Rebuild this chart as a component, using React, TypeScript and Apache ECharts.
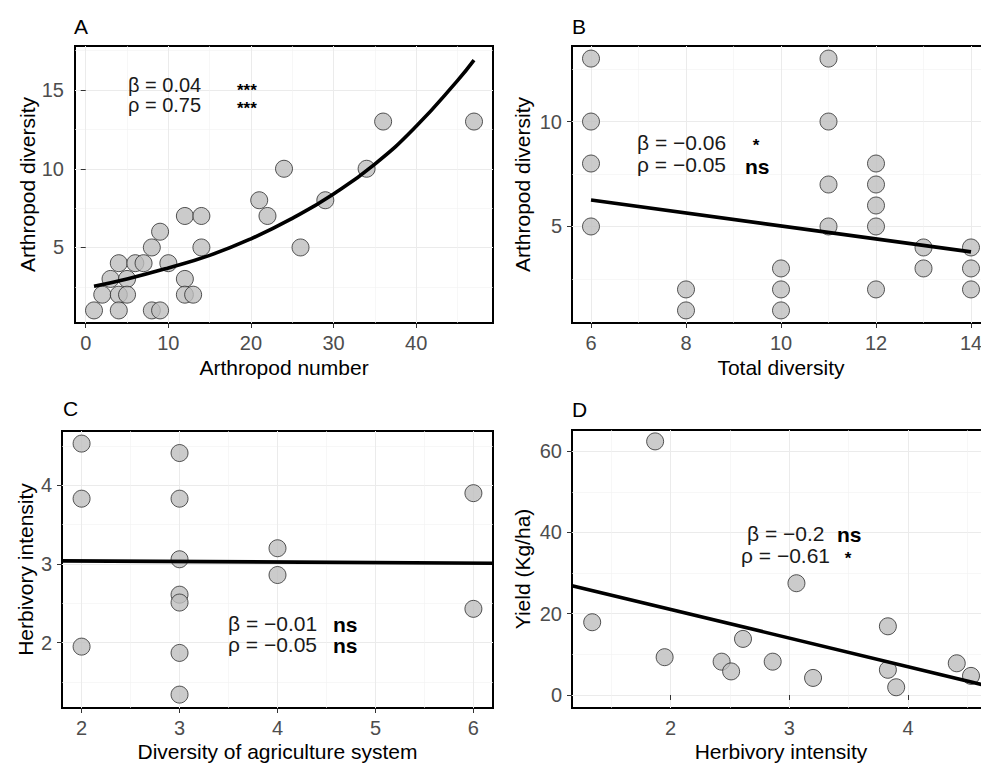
import React, { useEffect, useRef } from "react";
import * as echarts from "echarts";

// ---------- data ----------
// Panel A: Arthropod number vs Arthropod diversity
const aX = [1, 2, 3, 4, 4, 4, 5, 5, 6, 7, 8, 8, 9, 9, 10, 12, 12, 12, 13, 14, 14, 21, 22, 24, 26, 29, 34, 36, 47];
const aY = [1, 2, 3, 4, 2, 1, 3, 2, 4, 4, 5, 1, 6, 1, 4, 7, 3, 2, 2, 7, 5, 8, 7, 10, 5, 8, 10, 13, 13];
const aFitX = [1, 5, 10, 15, 20, 25, 30, 35, 40, 45, 47];
const aFitY = [2.54, 3.0, 3.7, 4.5, 5.55, 6.85, 8.4, 10.3, 12.7, 15.6, 16.9];

// Panel B: Total diversity vs Arthropod diversity
const bX = [6, 6, 6, 6, 8, 8, 10, 10, 10, 11, 11, 11, 11, 12, 12, 12, 12, 12, 13, 13, 14, 14, 14];
const bY = [13, 10, 8, 5, 2, 1, 3, 2, 1, 13, 10, 7, 5, 8, 7, 6, 5, 2, 4, 3, 4, 3, 2];
const bFitX = [6, 14];
const bFitY = [6.26, 3.79];

// Panel C: Diversity of agriculture system vs Herbivory intensity
const cX = [2, 2, 2, 3, 3, 3, 3, 3, 3, 3, 4, 4, 6, 6];
const cY = [4.53, 3.83, 1.95, 4.41, 3.83, 3.06, 2.61, 2.51, 1.87, 1.34, 3.2, 2.86, 3.9, 2.43];
const cFitX = [1.8, 6.2];
const cFitY = [3.04, 3.01];

// Panel D: Herbivory intensity vs Yield
const dX = [1.34, 1.87, 1.95, 2.43, 2.51, 2.61, 2.86, 3.06, 3.2, 3.83, 3.83, 3.9, 4.41, 4.53];
const dY = [17.9, 62.4, 9.3, 8.2, 5.8, 13.8, 8.2, 27.5, 4.2, 16.9, 6.2, 1.9, 7.8, 4.7];
const dFitX = [1.17, 4.69];
const dFitY = [26.9, 2.1];

// tick labels
const aXTicks = [0, 10, 20, 30, 40];
const aYTicks = [5, 10, 15];
const bXTicks = [6, 8, 10, 12, 14];
const bYTicks = [5, 10];
const cXTicks = [2, 3, 4, 5, 6];
const cYTicks = [2, 3, 4];
const dXTicks = [2, 3, 4];
const dYTicks = [0, 20, 40, 60];

const panelLabels = ["A", "B", "C", "D"];
const xTitles = ["Arthropod number", "Total diversity", "Diversity of agriculture system", "Herbivory intensity"];
const yTitles = ["Arthropod diversity", "Arthropod diversity", "Herbivory intensity", "Yield (Kg/ha)"];

const FONT = "'Liberation Sans', Arial, sans-serif";

const zip = (xs: number[], ys: number[]) => xs.map((x, i) => [x, ys[i]]);

function makeAxis(
  gridIndex: number,
  min: number,
  max: number,
  step: number,
  ticks: number[],
  name: string,
  nameGap: number,
  labelMargin: number
) {
  return {
    type: "value",
    gridIndex,
    min,
    max,
    minInterval: step,
    maxInterval: step,
    name,
    nameLocation: "middle",
    nameGap,
    nameTextStyle: { color: "#000", fontSize: 21, fontFamily: FONT },
    axisLine: { show: false },
    axisTick: {
      show: true,
      inside: false,
      length: 5,
      customValues: ticks,
      lineStyle: { color: "#333", width: 1 },
    },
    axisLabel: {
      color: "#4D4D4D",
      fontSize: 20,
      fontFamily: FONT,
      margin: labelMargin,
      customValues: ticks,
      formatter: (v: number) => (ticks.some((t) => Math.abs(t - v) < 1e-9) ? String(v) : ""),
    },
    splitLine: { show: true, lineStyle: { color: "#EBEBEB", width: 1 } },
    minorTick: { show: false, splitNumber: 2 },
    minorSplitLine: { show: true, lineStyle: { color: "#F2F2F2", width: 0.6 } },
  };
}

const pointStyle = { color: "#BEBEBE", borderColor: "#2b2b2b", borderWidth: 1 };

function scatter(i: number, xs: number[], ys: number[]) {
  return {
    type: "scatter",
    xAxisIndex: i,
    yAxisIndex: i,
    data: zip(xs, ys),
    symbol: "circle",
    symbolSize: 17,
    itemStyle: pointStyle,
    z: 2,
  };
}

function fit(i: number, xs: number[], ys: number[], smooth: boolean) {
  return {
    type: "line",
    xAxisIndex: i,
    yAxisIndex: i,
    data: zip(xs, ys),
    smooth,
    showSymbol: false,
    symbol: "none",
    lineStyle: { color: "#000", width: 3.6 },
    z: 3,
  };
}

function txt(x: number, y: number, text: string, opts: any = {}) {
  return {
    type: "text",
    x,
    y,
    z: 10,
    style: {
      text,
      fill: opts.fill || "#1a1a1a",
      fontSize: opts.fontSize || 21,
      fontFamily: FONT,
      fontWeight: opts.bold ? "bold" : "normal",
      align: opts.align || "left",
      verticalAlign: "middle",
      textAlign: opts.align || "left",
      textVerticalAlign: "middle",
    },
  };
}

export default function App() {
  const ref = useRef<HTMLDivElement>(null);

  useEffect(() => {
    if (!ref.current) return;
    const chart = echarts.init(ref.current, null, { renderer: "svg" });

    const gridCommon = { show: true, borderColor: "#000", borderWidth: 2, backgroundColor: "#fff", containLabel: false };

    const option: any = {
      animation: false,
      backgroundColor: "#fff",
      grid: [
        { ...gridCommon, left: 75, top: 46, width: 418, height: 277 },
        { ...gridCommon, left: 572, top: 46, width: 418, height: 277 },
        { ...gridCommon, left: 62, top: 431, width: 431, height: 277 },
        { ...gridCommon, left: 572, top: 430, width: 418, height: 278 },
      ],
      xAxis: [
        makeAxis(0, -1.3, 49.3, 10, aXTicks, xTitles[0], 34, 10),
        makeAxis(1, 5.6, 14.4, 2, bXTicks, xTitles[1], 34, 10),
        makeAxis(2, 1.8, 6.2, 1, cXTicks, xTitles[2], 33, 10),
        makeAxis(3, 1.17, 4.69, 1, dXTicks, xTitles[3], 33, 10),
      ],
      yAxis: [
        makeAxis(0, 0.2, 17.8, 5, aYTicks, yTitles[0], 37, 11),
        makeAxis(1, 0.4, 13.6, 5, bYTicks, yTitles[1], 39, 10),
        makeAxis(2, 1.17, 4.69, 1, cYTicks, yTitles[2], 26, 10),
        makeAxis(3, -3.2, 65.2, 20, dYTicks, yTitles[3], 39, 10),
      ],
      series: [
        scatter(0, aX, aY),
        fit(0, aFitX, aFitY, true),
        scatter(1, bX, bY),
        fit(1, bFitX, bFitY, false),
        scatter(2, cX, cY),
        fit(2, cFitX, cFitY, false),
        scatter(3, dX, dY),
        fit(3, dFitX, dFitY, false),
      ],
      graphic: [
        // panel labels
        txt(74, 26, panelLabels[0], { fill: "#000" }),
        txt(572, 26, panelLabels[1], { fill: "#000" }),
        txt(63, 408, panelLabels[2], { fill: "#000" }),
        txt(572, 409, panelLabels[3], { fill: "#000" }),
        // A annotations
        txt(128, 85, "β = 0.04", { fontSize: 20 }),
        txt(128, 105, "ρ = 0.75", { fontSize: 20 }),
        txt(237, 90, "***", { bold: true, fontSize: 17, fill: "#000" }),
        txt(237, 108, "***", { bold: true, fontSize: 17, fill: "#000" }),
        // B annotations
        txt(637, 142, "β = −0.06"),
        txt(637, 164, "ρ = −0.05"),
        txt(756, 145, "*", { bold: true, fontSize: 17, fill: "#000", align: "center" }),
        txt(745, 166, "ns", { bold: true, fill: "#000" }),
        // C annotations
        txt(228, 623, "β = −0.01"),
        txt(228, 644, "ρ = −0.05"),
        txt(333, 624, "ns", { bold: true, fill: "#000" }),
        txt(333, 645, "ns", { bold: true, fill: "#000" }),
        // D annotations
        txt(747, 533, "β = −0.2"),
        txt(741, 555, "ρ = −0.61"),
        txt(837, 534, "ns", { bold: true, fill: "#000" }),
        txt(848, 558, "*", { bold: true, fontSize: 17, fill: "#000", align: "center" }),
      ],
    };

    chart.setOption(option);
    return () => chart.dispose();
  }, []);

  return (
    <div
      style={{
        position: "fixed",
        left: 0,
        top: 0,
        width: 981,
        height: 765,
        overflow: "hidden",
        background: "#fff",
      }}
    >
      <div ref={ref} style={{ width: 1000, height: 765 }} />
    </div>
  );
}
